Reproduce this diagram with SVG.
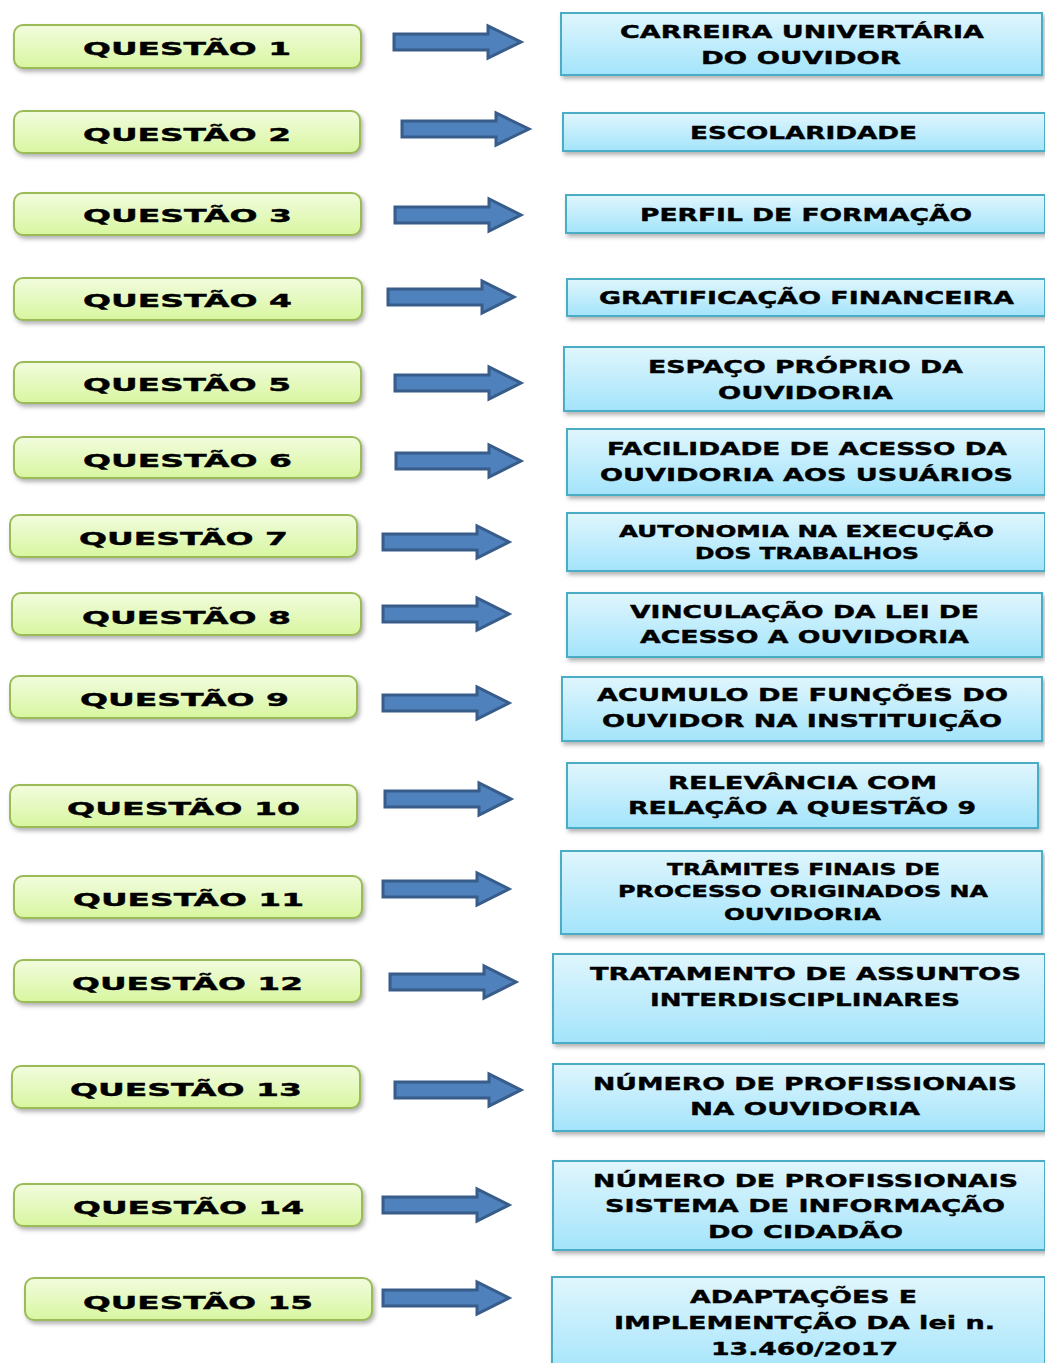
<svg xmlns="http://www.w3.org/2000/svg" width="1045" height="1363" viewBox="0 0 1045 1363">
<style>
text{font-family:"DejaVu Sans","Liberation Sans",sans-serif;font-weight:bold;fill:#000;stroke:#000;stroke-width:0.4;}
.q{font-size:18px;}
.r{font-size:18px;}
.s{font-size:15px;}
.gb{fill:url(#gg);stroke:#9bbb59;stroke-width:2;filter:url(#sh);}
.bb{fill:url(#bg);stroke:#4bacc6;stroke-width:2;filter:url(#sh);}
.ar{fill:#4f81bd;stroke:#385d8a;stroke-width:3;stroke-linejoin:miter;}
</style>
<defs>
<linearGradient id="gg" x1="0" y1="0" x2="0" y2="1"><stop offset="0" stop-color="#f2fcde"/><stop offset="1" stop-color="#d8f6a0"/></linearGradient>
<linearGradient id="bg" x1="0" y1="0" x2="0" y2="1"><stop offset="0" stop-color="#e0f6fd"/><stop offset="1" stop-color="#a3e4fb"/></linearGradient>
<filter id="sh" x="-5%" y="-20%" width="112%" height="150%"><feDropShadow dx="2" dy="3" stdDeviation="2" flood-color="#808080" flood-opacity="0.6"/></filter>
</defs>
<rect width="1045" height="1363" fill="#fff"/>

<g id="connectors">
<path class="ar" transform="translate(394,42)" d="M0,-8 H94 V-16 L127,0 L94,16 V8 H0 Z"/>
<path class="ar" transform="translate(402,129)" d="M0,-8 H94 V-16 L127,0 L94,16 V8 H0 Z"/>
<path class="ar" transform="translate(395,215)" d="M0,-8 H94 V-16 L126,0 L94,16 V8 H0 Z"/>
<path class="ar" transform="translate(388,297)" d="M0,-8 H94 V-16 L126,0 L94,16 V8 H0 Z"/>
<path class="ar" transform="translate(395,383)" d="M0,-8 H94 V-16 L126,0 L94,16 V8 H0 Z"/>
<path class="ar" transform="translate(396,461)" d="M0,-8 H93 V-16 L125,0 L93,16 V8 H0 Z"/>
<path class="ar" transform="translate(383,542)" d="M0,-8 H94 V-16 L126,0 L94,16 V8 H0 Z"/>
<path class="ar" transform="translate(383,614)" d="M0,-8 H94 V-16 L126,0 L94,16 V8 H0 Z"/>
<path class="ar" transform="translate(383,703)" d="M0,-8 H94 V-16 L126,0 L94,16 V8 H0 Z"/>
<path class="ar" transform="translate(385,799)" d="M0,-8 H94 V-16 L126,0 L94,16 V8 H0 Z"/>
<path class="ar" transform="translate(383,889)" d="M0,-8 H94 V-16 L126,0 L94,16 V8 H0 Z"/>
<path class="ar" transform="translate(390,982)" d="M0,-8 H94 V-16 L126,0 L94,16 V8 H0 Z"/>
<path class="ar" transform="translate(395,1090)" d="M0,-8 H94 V-16 L126,0 L94,16 V8 H0 Z"/>
<path class="ar" transform="translate(383,1205)" d="M0,-8 H94 V-16 L126,0 L94,16 V8 H0 Z"/>
<path class="ar" transform="translate(383,1298)" d="M0,-8 H94 V-16 L126,0 L94,16 V8 H0 Z"/>
</g>

<g id="q1"><rect class="gb" x="14" y="25" width="347" height="43" rx="9"/><text class="q" x="83" y="55" textLength="208" lengthAdjust="spacingAndGlyphs">QUESTÃO 1</text></g>
<g id="q2"><rect class="gb" x="14" y="111" width="346" height="42" rx="9"/><text class="q" x="83" y="141" textLength="208" lengthAdjust="spacingAndGlyphs">QUESTÃO 2</text></g>
<g id="q3"><rect class="gb" x="14" y="193" width="347" height="42" rx="9"/><text class="q" x="83" y="222" textLength="209" lengthAdjust="spacingAndGlyphs">QUESTÃO 3</text></g>
<g id="q4"><rect class="gb" x="14" y="278" width="348" height="42" rx="9"/><text class="q" x="83" y="307" textLength="209" lengthAdjust="spacingAndGlyphs">QUESTÃO 4</text></g>
<g id="q5"><rect class="gb" x="14" y="362" width="347" height="41" rx="9"/><text class="q" x="83" y="391" textLength="208" lengthAdjust="spacingAndGlyphs">QUESTÃO 5</text></g>
<g id="q6"><rect class="gb" x="14" y="437" width="347" height="41" rx="9"/><text class="q" x="83" y="467" textLength="209" lengthAdjust="spacingAndGlyphs">QUESTÃO 6</text></g>
<g id="q7"><rect class="gb" x="10" y="515" width="347" height="42" rx="9"/><text class="q" x="79" y="545" textLength="209" lengthAdjust="spacingAndGlyphs">QUESTÃO 7</text></g>
<g id="q8"><rect class="gb" x="12" y="593" width="349" height="42" rx="9"/><text class="q" x="82" y="624" textLength="209" lengthAdjust="spacingAndGlyphs">QUESTÃO 8</text></g>
<g id="q9"><rect class="gb" x="10" y="676" width="347" height="42" rx="9"/><text class="q" x="80" y="706" textLength="209" lengthAdjust="spacingAndGlyphs">QUESTÃO 9</text></g>
<g id="q10"><rect class="gb" x="10" y="785" width="347" height="42" rx="9"/><text class="q" x="67" y="815" textLength="233" lengthAdjust="spacingAndGlyphs">QUESTÃO 10</text></g>
<g id="q11"><rect class="gb" x="14" y="876" width="348" height="42" rx="9"/><text class="q" x="73" y="906" textLength="231" lengthAdjust="spacingAndGlyphs">QUESTÃO 11</text></g>
<g id="q12"><rect class="gb" x="14" y="960" width="347" height="42" rx="9"/><text class="q" x="72" y="990" textLength="231" lengthAdjust="spacingAndGlyphs">QUESTÃO 12</text></g>
<g id="q13"><rect class="gb" x="12" y="1066" width="348" height="42" rx="9"/><text class="q" x="70" y="1096" textLength="232" lengthAdjust="spacingAndGlyphs">QUESTÃO 13</text></g>
<g id="q14"><rect class="gb" x="14" y="1184" width="348" height="42" rx="9"/><text class="q" x="73" y="1214" textLength="231" lengthAdjust="spacingAndGlyphs">QUESTÃO 14</text></g>
<g id="q15"><rect class="gb" x="25" y="1278" width="347" height="42" rx="9"/><text class="q" x="83" y="1309" textLength="230" lengthAdjust="spacingAndGlyphs">QUESTÃO 15</text></g>

<g id="r1"><rect class="bb" x="561" y="13" width="481" height="62"/>
<text class="r" x="620" y="38" textLength="364" lengthAdjust="spacingAndGlyphs">CARREIRA UNIVERTÁRIA</text>
<text class="r" x="701" y="64" textLength="200" lengthAdjust="spacingAndGlyphs">DO OUVIDOR</text></g>
<g id="r2"><rect class="bb" x="563" y="113" width="482" height="38"/>
<text class="r" x="690" y="139" textLength="227" lengthAdjust="spacingAndGlyphs">ESCOLARIDADE</text></g>
<g id="r3"><rect class="bb" x="566" y="195" width="479" height="38"/>
<text class="r" x="640" y="221" textLength="332" lengthAdjust="spacingAndGlyphs">PERFIL DE FORMAÇÃO</text></g>
<g id="r4"><rect class="bb" x="567" y="279" width="478" height="37"/>
<text class="r" x="599" y="304" textLength="415" lengthAdjust="spacingAndGlyphs">GRATIFICAÇÃO FINANCEIRA</text></g>
<g id="r5"><rect class="bb" x="564" y="347" width="481" height="64"/>
<text class="r" x="648" y="373" textLength="315" lengthAdjust="spacingAndGlyphs">ESPAÇO PRÓPRIO DA</text>
<text class="r" x="718" y="399" textLength="175" lengthAdjust="spacingAndGlyphs">OUVIDORIA</text></g>
<g id="r6"><rect class="bb" x="567" y="429" width="478" height="66"/>
<text class="r" x="607" y="455" textLength="400" lengthAdjust="spacingAndGlyphs">FACILIDADE DE ACESSO DA</text>
<text class="r" x="600" y="481" textLength="413" lengthAdjust="spacingAndGlyphs">OUVIDORIA AOS USUÁRIOS</text></g>
<g id="r7"><rect class="bb" x="567" y="513" width="478" height="58"/>
<text class="s" x="619" y="537" textLength="375" lengthAdjust="spacingAndGlyphs">AUTONOMIA NA EXECUÇÃO</text>
<text class="s" x="695" y="559" textLength="224" lengthAdjust="spacingAndGlyphs">DOS TRABALHOS</text></g>
<g id="r8"><rect class="bb" x="567" y="593" width="475" height="64"/>
<text class="r" x="630" y="618" textLength="349" lengthAdjust="spacingAndGlyphs">VINCULAÇÃO DA LEI DE</text>
<text class="r" x="640" y="643" textLength="329" lengthAdjust="spacingAndGlyphs">ACESSO A OUVIDORIA</text></g>
<g id="r9"><rect class="bb" x="562" y="677" width="480" height="64"/>
<text class="r" x="597" y="701" textLength="411" lengthAdjust="spacingAndGlyphs">ACUMULO DE FUNÇÕES DO</text>
<text class="r" x="602" y="727" textLength="400" lengthAdjust="spacingAndGlyphs">OUVIDOR NA INSTITUIÇÃO</text></g>
<g id="r10"><rect class="bb" x="567" y="763" width="471" height="65"/>
<text class="r" x="668" y="789" textLength="269" lengthAdjust="spacingAndGlyphs">RELEVÂNCIA COM</text>
<text class="r" x="628" y="814" textLength="348" lengthAdjust="spacingAndGlyphs">RELAÇÃO A QUESTÃO 9</text></g>
<g id="r11"><rect class="bb" x="561" y="851" width="481" height="83"/>
<text class="s" x="667" y="875" textLength="273" lengthAdjust="spacingAndGlyphs">TRÂMITES FINAIS DE</text>
<text class="s" x="618" y="897" textLength="370" lengthAdjust="spacingAndGlyphs">PROCESSO ORIGINADOS NA</text>
<text class="s" x="724" y="920" textLength="157" lengthAdjust="spacingAndGlyphs">OUVIDORIA</text></g>
<g id="r12"><rect class="bb" x="553" y="954" width="492" height="89"/>
<text class="r" x="590" y="980" textLength="431" lengthAdjust="spacingAndGlyphs">TRATAMENTO DE ASSUNTOS</text>
<text class="r" x="650" y="1006" textLength="310" lengthAdjust="spacingAndGlyphs">INTERDISCIPLINARES</text></g>
<g id="r13"><rect class="bb" x="553" y="1064" width="492" height="67"/>
<text class="r" x="593" y="1090" textLength="424" lengthAdjust="spacingAndGlyphs">NÚMERO DE PROFISSIONAIS</text>
<text class="r" x="690" y="1115" textLength="230" lengthAdjust="spacingAndGlyphs">NA OUVIDORIA</text></g>
<g id="r14"><rect class="bb" x="553" y="1161" width="492" height="89"/>
<text class="r" x="593" y="1187" textLength="425" lengthAdjust="spacingAndGlyphs">NÚMERO DE PROFISSIONAIS</text>
<text class="r" x="605" y="1212" textLength="400" lengthAdjust="spacingAndGlyphs">SISTEMA DE INFORMAÇÃO</text>
<text class="r" x="708" y="1238" textLength="195" lengthAdjust="spacingAndGlyphs">DO CIDADÃO</text></g>
<g id="r15"><rect class="bb" x="552" y="1277" width="493" height="100"/>
<text class="r" x="690" y="1303" textLength="227" lengthAdjust="spacingAndGlyphs">ADAPTAÇÕES E</text>
<text class="r" x="614" y="1329" textLength="381" lengthAdjust="spacingAndGlyphs">IMPLEMENTÇÃO DA lei n.</text>
<text class="r" x="711" y="1355" textLength="187" lengthAdjust="spacingAndGlyphs">13.460/2017</text></g>
</svg>
